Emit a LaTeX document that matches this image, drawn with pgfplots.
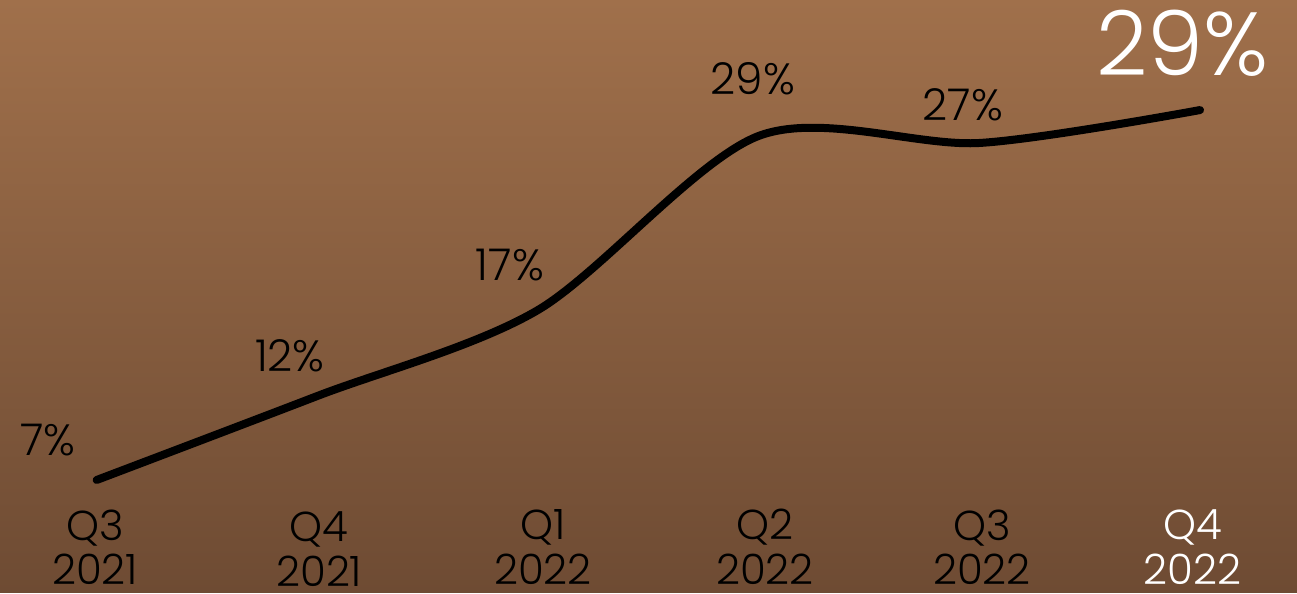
\documentclass[border=0pt]{standalone}
\usepackage{pgfplots}
\pgfplotsset{compat=1.18}
\usepackage{fontspec}
\setmainfont{Poppins}[UprightFont={* Light}]
\begin{document}
\begin{tikzpicture}
\begin{axis}[
  scale only axis, width=648.5bp, height=296bp,
  xmin=-0.4381, xmax=5.4395, ymin=0.333, ymax=35.571,
  hide axis, clip=false,
]
\fill[top color={rgb,255:red,160;green,112;blue,75}, middle color={rgb,255:red,130;green,90;blue,62}, bottom color={rgb,255:red,110;green,75;blue,51}]
  (rel axis cs:0,0) rectangle (rel axis cs:1,1);
\addplot[black, line width=4bp, line cap=round, smooth, tension=0.5] coordinates {
  (0,7) (1,12.0) (2,17.12) (3,27.48) (4,27.06) (5,29.02)
};
\begin{scope}[every node/.style={font=\fontsize{22}{24}\selectfont, text=black}]
\node at (axis cs:-0.2207,9.381) {7\%};
\node at (axis cs:0.8758,14.381) {12\%};
\node at (axis cs:1.8727,19.798) {17\%};
\node at (axis cs:2.9737,30.869) {29\%};
\node at (axis cs:3.925,29.321) {27\%};
\end{scope}
\node[font=\fontsize{45}{47}\selectfont, text=white] at (axis cs:4.9221,33.012) {29\%};
\begin{scope}[every node/.style={font=\fontsize{21}{22.5}\selectfont, text=black, align=center}]
\node at (axis cs:-0.0068,3.00) {Q3\\2021};
\node at (axis cs:1.0086,2.87) {Q4\\2021};
\node at (axis cs:2.0222,3.00) {Q1\\2022};
\node at (axis cs:3.0281,3.00) {Q2\\2022};
\node at (axis cs:4.0114,3.00) {Q3\\2022};
\node[text=white] at (axis cs:4.9651,3.00) {Q4\\2022};
\end{scope}
\end{axis}
\end{tikzpicture}
\end{document}
